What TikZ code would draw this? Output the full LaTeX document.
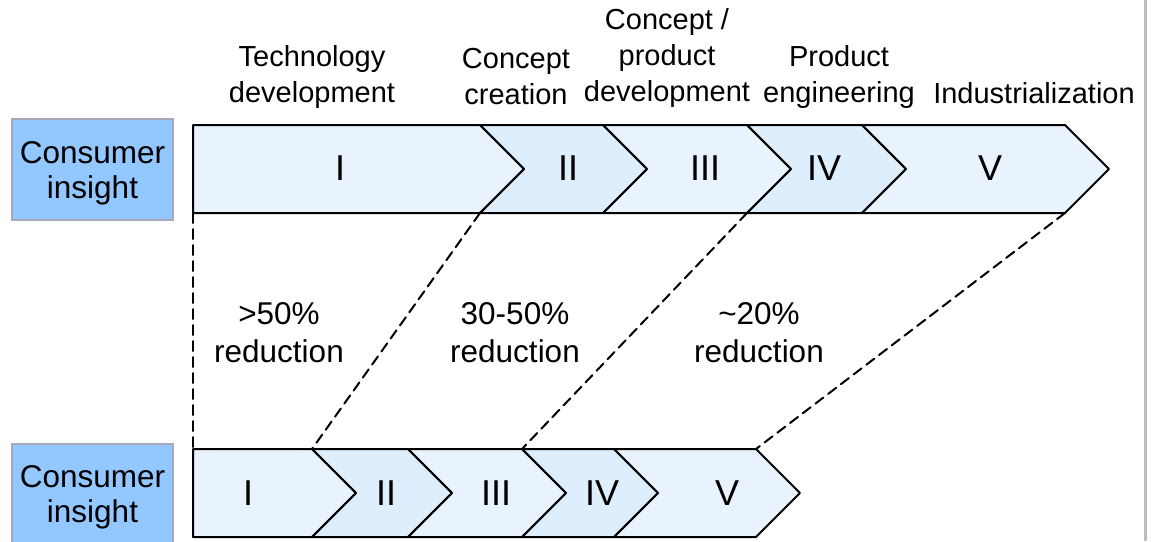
\documentclass[tikz,border=0pt]{standalone}
\usepackage{fontspec}
\setmainfont{Liberation Sans}
\usepackage{tkz-euclide}
\definecolor{InsightClr}{RGB}{147,199,255}
\definecolor{InsightEdge}{RGB}{166,168,182}
\definecolor{PhaseClr}{RGB}{233,243,253}
\definecolor{PhaseAltClr}{RGB}{221,238,252}
\definecolor{FrameClr}{RGB}{184,188,203}

\begin{document}
\begin{tikzpicture}[x=1pt,y=-1pt,
  hdr/.style={align=center,font=\fontsize{29}{36}\selectfont},
  gain/.style={align=center,font=\fontsize{31.5}{38}\selectfont},
  num/.style={font=\fontsize{36}{40}\selectfont},
  insight/.style={draw=InsightEdge,line width=2pt,fill=InsightClr,align=center,
    minimum width=161pt,minimum height=101pt,inner sep=0pt,
    font=\fontsize{31.5}{35}\selectfont}]
\clip (0,0) rectangle (1151,541);
\tkzSetUpLine[line width=2pt,color=black]

\tkzDefPoints{193/125/Ta0,193/213/Tb0,
  480/125/Ta1,524/169/Tm1,480/213/Tb1,
  603/125/Ta2,647/169/Tm2,603/213/Tb2,
  747/125/Ta3,791/169/Tm3,747/213/Tb3,
  862/125/Ta4,906/169/Tm4,862/213/Tb4,
  1065/125/Ta5,1109/169/Tm5,1065/213/Tb5}

\tkzDefPoints{193/449/Ba0,193/537/Bb0,
  312/449/Ba1,356/493/Bm1,312/537/Bb1,
  408/449/Ba2,452/493/Bm2,408/537/Bb2,
  522/449/Ba3,566/493/Bm3,522/537/Bb3,
  614/449/Ba4,658/493/Bm4,614/537/Bb4,
  756/449/Ba5,800/493/Bm5,756/537/Bb5}

% current process
\tkzFillPolygon[fill=PhaseClr](Ta0,Ta1,Tm1,Tb1,Tb0)
\tkzFillPolygon[fill=PhaseAltClr](Ta1,Ta2,Tm2,Tb2,Tb1,Tm1)
\tkzFillPolygon[fill=PhaseClr](Ta2,Ta3,Tm3,Tb3,Tb2,Tm2)
\tkzFillPolygon[fill=PhaseAltClr](Ta3,Ta4,Tm4,Tb4,Tb3,Tm3)
\tkzFillPolygon[fill=PhaseClr](Ta4,Ta5,Tm5,Tb5,Tb4,Tm4)
\tkzDrawPolygon(Ta0,Ta1,Tm1,Tb1,Tb0)
\tkzDrawPolygon(Ta1,Ta2,Tm2,Tb2,Tb1,Tm1)
\tkzDrawPolygon(Ta2,Ta3,Tm3,Tb3,Tb2,Tm2)
\tkzDrawPolygon(Ta3,Ta4,Tm4,Tb4,Tb3,Tm3)
\tkzDrawPolygon(Ta4,Ta5,Tm5,Tb5,Tb4,Tm4)

% shortened process
\tkzFillPolygon[fill=PhaseClr](Ba0,Ba1,Bm1,Bb1,Bb0)
\tkzFillPolygon[fill=PhaseAltClr](Ba1,Ba2,Bm2,Bb2,Bb1,Bm1)
\tkzFillPolygon[fill=PhaseClr](Ba2,Ba3,Bm3,Bb3,Bb2,Bm2)
\tkzFillPolygon[fill=PhaseAltClr](Ba3,Ba4,Bm4,Bb4,Bb3,Bm3)
\tkzFillPolygon[fill=PhaseClr](Ba4,Ba5,Bm5,Bb5,Bb4,Bm4)
\tkzDrawPolygon(Ba0,Ba1,Bm1,Bb1,Bb0)
\tkzDrawPolygon(Ba1,Ba2,Bm2,Bb2,Bb1,Bm1)
\tkzDrawPolygon(Ba2,Ba3,Bm3,Bb3,Bb2,Bm2)
\tkzDrawPolygon(Ba3,Ba4,Bm4,Bb4,Bb3,Bm3)
\tkzDrawPolygon(Ba4,Ba5,Bm5,Bb5,Bb4,Bm4)

\tkzDrawSegments[dash pattern=on 10pt off 6pt](Tb0,Ba0 Tb1,Ba1 Tb3,Ba3 Tb5,Ba5)

\node[insight] (insTop) at (92.5,169.5) {\rule{0pt}{29pt}Consumer\\insight};
\node[insight] (insBot) at (92.5,494) {\rule{0pt}{29pt}Consumer\\insight};

\node[num] (tI) at (340,168) {I};
\node[num] (tII) at (568,168) {II};
\node[num] (tIII) at (705,168) {III};
\node[num] (tIV) at (824,168) {IV};
\node[num] (tV) at (990,168) {V};

\node[num] (bI) at (248,493) {I};
\node[num] (bII) at (386,493) {II};
\node[num] (bIII) at (496,493) {III};
\node[num] (bIV) at (602,493) {IV};
\node[num] (bV) at (727,493) {V};

\node[hdr] (hTech) at (312,77) {Technology\\development};
\node[hdr] (hCrea) at (516,77) {Concept\\creation};
\node[hdr] (hDev) at (667,58) {Concept /\\product\\development};
\node[hdr] (hEng) at (839,77) {Product\\engineering};
\node[hdr] (hInd) at (1034,93) {Industrialization};

\node[gain] (rOne) at (279,333) {>50\%\\reduction};
\node[gain] (rTwo) at (515,333) {30-50\%\\reduction};
\node[gain] (rThree) at (759,333) {\textasciitilde20\%\\reduction};

\draw[FrameClr,line width=3pt] (1145.5,0) -- (1145.5,541);
\end{tikzpicture}
\end{document}
